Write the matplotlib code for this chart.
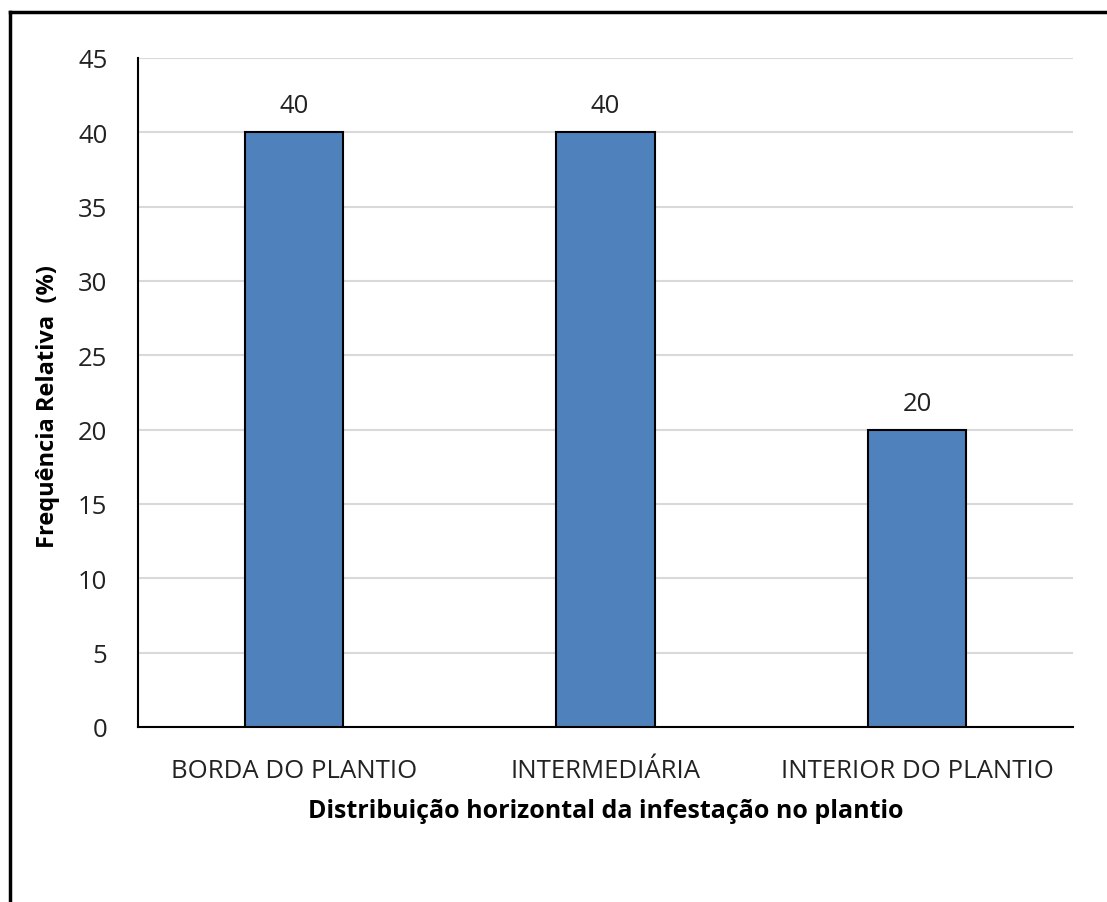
import matplotlib
matplotlib.use("Agg")
import matplotlib.pyplot as plt
from matplotlib.lines import Line2D

categories = ["BORDA DO PLANTIO", "INTERMEDIÁRIA", "INTERIOR DO PLANTIO"]
values = [40, 40, 20]
yticks = [0, 5, 10, 15, 20, 25, 30, 35, 40, 45]

plt.rcParams['font.family'] = ['Open Sans', 'DejaVu Sans']

fig = plt.figure(figsize=(11.07, 9.03), dpi=100)
ax = fig.add_axes([138/1107, 1-728/903, (1073-138)/1107, (728-59)/903])

x = list(range(len(categories)))
bars = ax.bar(x, values, width=0.315, color="#4F81BD", edgecolor="black", linewidth=1.5, zorder=3)
for xi, v in zip(x, values):
    ax.annotate(f"{v}", (xi, v), xytext=(0, 10), textcoords="offset points",
                ha="center", va="bottom", fontsize=18.5, color="#222222")

ax.set_xlim(-0.5, len(categories) - 0.5)
ax.set_ylim(0, 45)
ax.set_yticks(yticks)
ax.set_yticklabels([str(t) for t in yticks], fontsize=18.5, color="#222222")
ax.set_xticks(x)
ax.set_xticklabels(categories, fontsize=18.5, color="#222222")
ax.tick_params(axis="both", length=0)
ax.tick_params(axis="y", pad=22)
ax.tick_params(axis="x", pad=22)
ax.yaxis.grid(True, color="#d9d9d9", linewidth=1.5, zorder=0)
ax.set_axisbelow(True)
for s in ["top", "right"]:
    ax.spines[s].set_visible(False)
for s in ["left", "bottom"]:
    ax.spines[s].set_color("black")
    ax.spines[s].set_linewidth(1.5)

ax.set_xlabel("Distribuição horizontal da infestação no plantio", fontsize=18,
              fontweight="bold", color="black", labelpad=11)
ax.set_ylabel("Frequência Relativa  (%)", fontsize=17, fontweight="bold",
              color="black", labelpad=13, y=0.481)

# outer frame (top and left only)
fig.add_artist(Line2D([10/1107, 1.0], [1-13/903, 1-13/903], transform=fig.transFigure,
                      color="black", linewidth=2.5))
fig.add_artist(Line2D([10/1107, 10/1107], [0, 1-13/903], transform=fig.transFigure,
                      color="black", linewidth=2.5))

fig.savefig("out.png", dpi=100)
